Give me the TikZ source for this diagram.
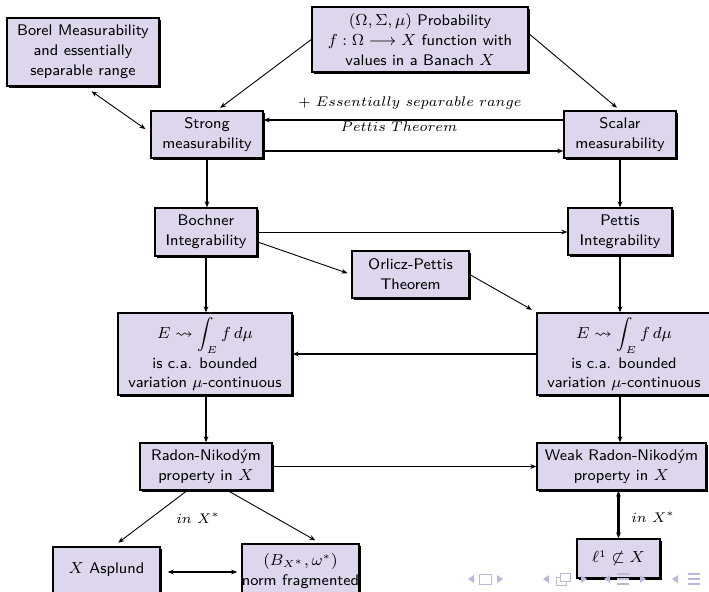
\documentclass[tikz,border=0pt]{standalone}
\usepackage{amsmath,amssymb}
\usetikzlibrary{arrows.meta,shadows}
\definecolor{boxfill}{RGB}{222,214,236}
\definecolor{navc}{RGB}{185,185,220}
\tikzset{
  box/.style={draw=black, line width=0.7pt, fill=boxfill, align=center, inner sep=0pt,
    font=\sffamily\fontsize{7.7}{10}\selectfont,
    drop shadow={shadow xshift=1pt, shadow yshift=-1pt, fill=black, opacity=1}},
  lbl/.style={inner sep=0pt, font=\fontsize{6.9}{9}\selectfont},
  thk/.style={line width=1.1pt},
  thn/.style={line width=0.45pt},
  arr/.style={-{Stealth[length=3pt,width=2.4pt]}},
  darr/.style={{Stealth[length=3pt,width=2.4pt]}-{Stealth[length=3pt,width=2.4pt]}},
}
\begin{document}
\begin{tikzpicture}[x=0.5pt,y=-0.5pt]
\useasboundingbox (0,0) rectangle (709,591);
\clip (0,0) rectangle (709,591);
% nodes
\node[box, minimum width=76pt, minimum height=34pt] (borel) at (83,52) {Borel Measurability\\and essentially\\separable range};
\node[box, minimum width=108pt, minimum height=32.5pt] (prob) at (420,39.5) {$(\Omega,\Sigma,\mu)$ Probability\\$f:\Omega\longrightarrow X$ function with\\values in a Banach $X$};
\node[box, minimum width=56pt, minimum height=23.5pt] (strong) at (207,134.5) {Strong\\measurability};
\node[box, minimum width=56pt, minimum height=23.5pt] (scalar) at (620,134.5) {Scalar\\measurability};
\node[box, minimum width=51pt, minimum height=24pt] (bochner) at (206,232) {Bochner\\Integrability};
\node[box, minimum width=52pt, minimum height=23.5pt] (pettis) at (620,231.5) {Pettis\\Integrability};
\node[box, minimum width=58.5pt, minimum height=23.5pt] (orlicz) at (410.5,274.5) {Orlicz-Pettis\\Theorem};
\node[box, minimum width=87pt, minimum height=41pt] (leftE) at (205,354) {$E\rightsquigarrow\displaystyle\int_E f\,d\mu$\\[1.5pt]is c.a. bounded\\[-0.8pt]variation $\mu$-continuous};
\node[box, minimum width=87pt, minimum height=41pt] (rightE) at (624,354) {$E\rightsquigarrow\displaystyle\int_E f\,d\mu$\\[1.5pt]is c.a. bounded\\[-0.8pt]variation $\mu$-continuous};
\node[box, minimum width=66pt, minimum height=23.5pt] (rn) at (206,466.5) {Radon-Nikodým\\property in $X$};
\node[box, minimum width=84.5pt, minimum height=23.5pt] (wrn) at (621.5,466.5) {Weak Radon-Nikodým\\property in $X$};
\node[box, minimum width=53.5pt, minimum height=23pt] (asplund) at (106.5,570) {$X$ Asplund};
\node[box, minimum width=54.5pt, minimum height=27pt] (bx) at (300.5,571) {$(B_{X^*},\omega^*)$\\norm fragmented};
\node[box, minimum width=41.5pt, minimum height=19.5pt] (lone) at (618.5,558.5) {$\ell^1\not\subset X$};
% labels
\node[lbl] (lab1) at (410,103) {$+\ Essentially\ separable\ range$};
\node[lbl] (lab2) at (399,127) {$Pettis\ Theorem$};
\node[lbl] (lab3) at (198,518) {$in\ X^*$};
\node[lbl] (lab4) at (653,517) {$in\ X^*$};
% connectors
\draw[thn,arr,shorten >=2pt] (prob.west) -- ([xshift=5pt]strong.north);
\draw[thn,arr,shorten >=2pt] ([yshift=3pt]prob.east) -- (scalar.north);
\draw[thn,darr,shorten <=4pt,shorten >=3pt] ([xshift=1pt]borel.south) -- ([yshift=1pt]strong.west);
\draw[thk,arr] ([yshift=7.25pt]scalar.west) -- ([yshift=7.25pt]strong.east);
\draw[thk,arr] ([yshift=-8.25pt]strong.east) -- ([yshift=-8.25pt]scalar.west);
\draw[thk,arr] (strong.south) -- (strong.south |- bochner.north);
\draw[thk,arr] (scalar.south) -- (scalar.south |- pettis.north);
\draw[thn,arr] (bochner.east) -- (bochner.east -| pettis.west);
\draw[thn,arr,shorten >=2pt] ([yshift=-5pt]bochner.east) -- (orlicz.west);
\draw[thn,arr,shorten >=2.5pt] (orlicz.east) -- (rightE.north west);
\draw[thk,arr] (bochner.south) -- (bochner.south |- leftE.north);
\draw[thk,arr] (pettis.south) -- (pettis.south |- rightE.north);
\draw[thk,arr] (rightE.west) -- (leftE.east);
\draw[thk,arr] (leftE.south -| rn.north) -- (rn.north);
\draw[thk,arr] (pettis.south |- rightE.south) -- (pettis.south |- wrn.north);
\draw[thn,arr] (rn.east) -- (rn.east -| wrn.west);
\draw[thn,arr,shorten >=3pt] ([xshift=-9.5pt]rn.south) -- ([xshift=3.5pt]asplund.north);
\draw[thn,arr,shorten >=3pt] ([xshift=11pt]rn.south) -- ([xshift=10pt]bx.north);
\draw[thk,darr,shorten <=3.5pt,shorten >=2pt] ([yshift=-1pt]asplund.east) -- ([yshift=-1pt]asplund.east -| bx.west);
\draw[thk,darr] (wrn.south -| lone.north) -- (lone.north);
% navigation symbols
\begin{scope}[navc]
\fill (468,579) -- ++(6,-4) -- ++(0,8) -- cycle;
\draw[line width=0.5pt] (479,574) rectangle (491,584);
\fill (503,579) -- ++(-6,-4) -- ++(0,8) -- cycle;
\fill (543,579) -- ++(6,-4) -- ++(0,8) -- cycle;
\draw[line width=0.5pt] (556,577) rectangle (566,585);
\draw[line width=0.5pt,fill=white] (560,573) rectangle (570,581);
\fill (587,579) -- ++(-6,-4) -- ++(0,8) -- cycle;
\fill (604,579) -- ++(6,-4) -- ++(0,8) -- cycle;
\draw[line width=0.6pt] (617,574) -- ++(12,0) (617,579) -- ++(12,0) (617,584) -- ++(12,0);
\fill (646,579) -- ++(-6,-4) -- ++(0,8) -- cycle;
\fill (672,579) -- ++(6,-4) -- ++(0,8) -- cycle;
\draw[line width=0.6pt] (688,574) -- ++(12,0) (688,579) -- ++(12,0) (688,584) -- ++(12,0);
\end{scope}
\end{tikzpicture}
\end{document}
